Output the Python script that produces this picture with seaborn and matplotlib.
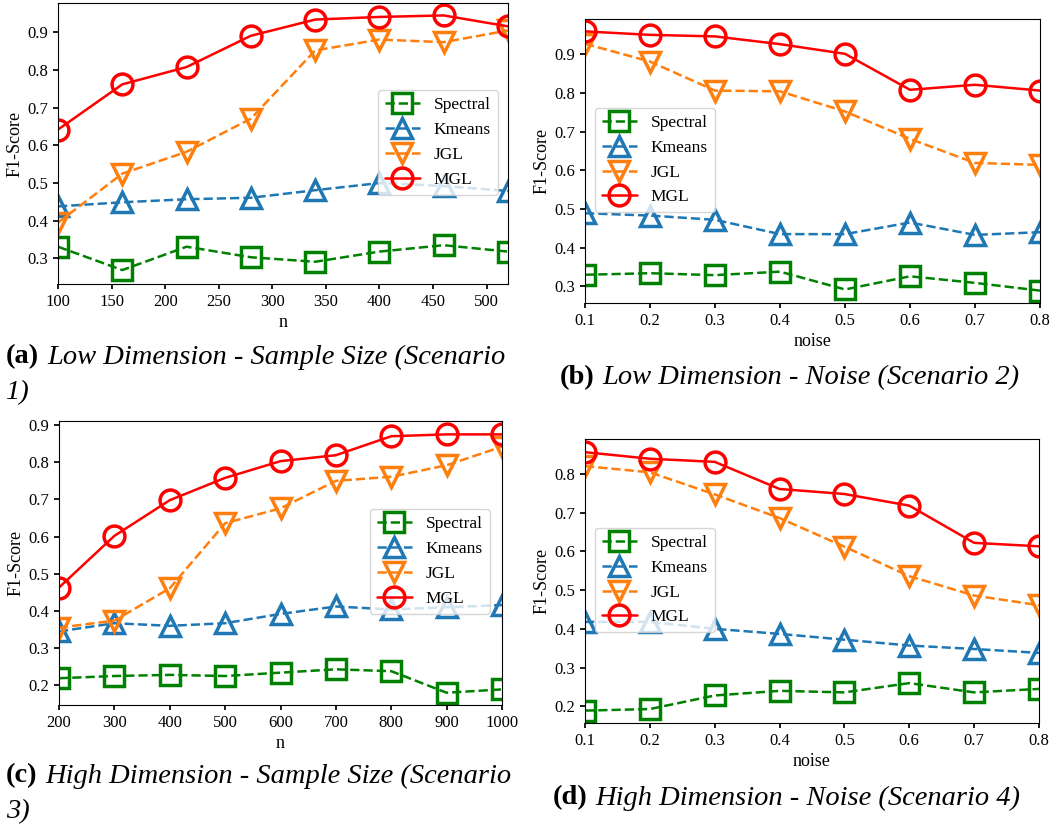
import numpy as np
import pandas as pd
import seaborn as sns
import matplotlib
matplotlib.use("Agg")
import matplotlib.pyplot as plt

# ---------------- data ----------------
methods = ["Spectral", "Kmeans", "JGL", "MGL"]

a_x = [100, 160, 220, 280, 340, 400, 460, 520]
a_spectral = [0.331, 0.269, 0.331, 0.303, 0.291, 0.318, 0.335, 0.318]
a_kmeans = [0.438, 0.449, 0.457, 0.461, 0.481, 0.500, 0.492, 0.479]
a_jgl = [0.395, 0.525, 0.583, 0.671, 0.852, 0.881, 0.874, 0.905]
a_mgl = [0.642, 0.762, 0.808, 0.891, 0.934, 0.941, 0.945, 0.916]

b_x = [0.1, 0.2, 0.3, 0.4, 0.5, 0.6, 0.7, 0.8]
b_spectral = [0.330, 0.334, 0.329, 0.338, 0.292, 0.326, 0.309, 0.289]
b_kmeans = [0.489, 0.483, 0.472, 0.435, 0.435, 0.465, 0.433, 0.440]
b_jgl = [0.927, 0.881, 0.806, 0.804, 0.752, 0.681, 0.619, 0.614]
b_mgl = [0.959, 0.950, 0.946, 0.926, 0.901, 0.808, 0.821, 0.806]

c_x = [200, 300, 400, 500, 600, 700, 800, 900, 1000]
c_spectral = [0.219, 0.225, 0.228, 0.225, 0.234, 0.243, 0.238, 0.180, 0.189]
c_kmeans = [0.345, 0.367, 0.360, 0.367, 0.392, 0.412, 0.404, 0.410, 0.416]
c_jgl = [0.355, 0.374, 0.461, 0.636, 0.676, 0.750, 0.761, 0.792, 0.842]
c_mgl = [0.463, 0.602, 0.698, 0.758, 0.803, 0.819, 0.870, 0.875, 0.875]

d_x = [0.1, 0.2, 0.3, 0.4, 0.5, 0.6, 0.7, 0.8]
d_spectral = [0.189, 0.193, 0.228, 0.240, 0.236, 0.260, 0.236, 0.245]
d_kmeans = [0.418, 0.418, 0.400, 0.387, 0.372, 0.357, 0.348, 0.338]
d_jgl = [0.820, 0.804, 0.747, 0.686, 0.612, 0.536, 0.486, 0.461]
d_mgl = [0.856, 0.839, 0.831, 0.761, 0.748, 0.718, 0.622, 0.613]

captions_bold = ["(a)", "(b)", "(c)", "(d)"]
captions_it = [
    "Low Dimension - Sample Size (Scenario",
    "Low Dimension - Noise (Scenario 2)",
    "High Dimension - Sample Size (Scenario",
    "High Dimension - Noise (Scenario 4)",
]
captions_second = ["1)", None, "3)", None]
xlabels = ["n", "noise", "n", "noise"]

# ---------------- style ----------------
sns.set_theme(style="ticks")
plt.rcParams["font.family"] = ["Liberation Serif", "DejaVu Serif"]
plt.rcParams["text.color"] = "black"
plt.rcParams["axes.labelcolor"] = "black"
plt.rcParams["axes.edgecolor"] = "black"
plt.rcParams["axes.linewidth"] = 0.8
plt.rcParams["xtick.color"] = "black"
plt.rcParams["ytick.color"] = "black"
plt.rcParams["xtick.direction"] = "out"
plt.rcParams["ytick.direction"] = "out"
plt.rcParams["xtick.major.size"] = 3.5
plt.rcParams["ytick.major.size"] = 3.5

styles = {
    "Spectral": dict(color="green", linestyle="--", marker="s"),
    "Kmeans": dict(color="#1f77b4", linestyle="--", marker="^"),
    "JGL": dict(color="#ff7f0e", linestyle="--", marker="v"),
    "MGL": dict(color="red", linestyle="-", marker="o"),
}

fig = plt.figure(figsize=(10.54, 8.32), dpi=100)
W, H = 1054, 832
boxes = [  # left, top, right, bottom in pixels
    (58, 3, 508, 284),
    (585, 19, 1040, 303),
    (59, 421, 502, 705),
    (585, 439, 1039, 723),
]
panels = [
    (a_x, [a_spectral, a_kmeans, a_jgl, a_mgl]),
    (b_x, [b_spectral, b_kmeans, b_jgl, b_mgl]),
    (c_x, [c_spectral, c_kmeans, c_jgl, c_mgl]),
    (d_x, [d_spectral, d_kmeans, d_jgl, d_mgl]),
]
ylims = [(0.232, 0.978), (0.257, 0.991), (0.147, 0.911), (0.157, 0.890)]
xticks = [np.arange(100, 501, 50), b_x, c_x, d_x]
yticks = [np.arange(0.3, 0.91, 0.1), np.arange(0.3, 0.91, 0.1),
          np.arange(0.2, 0.91, 0.1), np.arange(0.2, 0.81, 0.1)]
legpos = [(0.711, 0.690), (0.022, 0.687), (0.702, 0.690), (0.022, 0.687)]

for i, ((l, t, r, b), (xs, series)) in enumerate(zip(boxes, panels)):
    ax = fig.add_axes([l / W, 1 - b / H, (r - l) / W, (b - t) / H])
    for name, ys in zip(methods, series):
        st = styles[name]
        df = pd.DataFrame({"x": xs, "y": ys})
        sns.lineplot(data=df, x="x", y="y", ax=ax, color=st["color"],
                     linestyle=st["linestyle"], marker=st["marker"],
                     markersize=15, markerfacecolor="none",
                     markeredgecolor=st["color"], markeredgewidth=2.5,
                     linewidth=1.8, label=name, legend=False)
    ax.set_xlim(min(xs), max(xs))
    ax.set_ylim(*ylims[i])
    ax.set_xticks(xticks[i])
    if i in (1, 3):
        ax.set_xticklabels([f"{v:.1f}" for v in xticks[i]])
    ax.set_yticks(yticks[i])
    ax.set_yticklabels([f"{v:.1f}" for v in yticks[i]])
    ax.tick_params(labelsize=12)
    ax.set_xlabel(xlabels[i], fontsize=13, labelpad=3)
    ax.set_ylabel("F1-Score", fontsize=13, labelpad=3)
    for sp in ax.spines.values():
        sp.set_visible(True)
    leg = ax.legend(loc="upper left", bbox_to_anchor=legpos[i], borderaxespad=0,
                    fontsize=12.5, frameon=True, framealpha=0.8, edgecolor="0.8",
                    fancybox=True)
    for txt in leg.get_texts():
        txt.set_color("black")

# captions
cap_pos = [(6, 357), (560, 378), (6, 776), (553, 798)]
cap_fs = 20.5
fig.canvas.draw()
renderer = fig.canvas.get_renderer()
for i in range(4):
    x0, y0 = cap_pos[i]
    tb = fig.text(x0 / W, 1 - y0 / H, captions_bold[i], fontsize=cap_fs,
                  fontweight="bold", va="center", ha="left", color="black")
    ext = tb.get_window_extent(renderer)
    fig.text((ext.x1 + 8) / W, 1 - y0 / H, captions_it[i], fontsize=cap_fs,
             fontstyle="italic", va="center", ha="left", color="black")
    if captions_second[i]:
        fig.text(x0 / W, 1 - (y0 + 36) / H, captions_second[i], fontsize=cap_fs,
                 fontstyle="italic", va="center", ha="left", color="black")

fig.savefig("out.png", dpi=100)
